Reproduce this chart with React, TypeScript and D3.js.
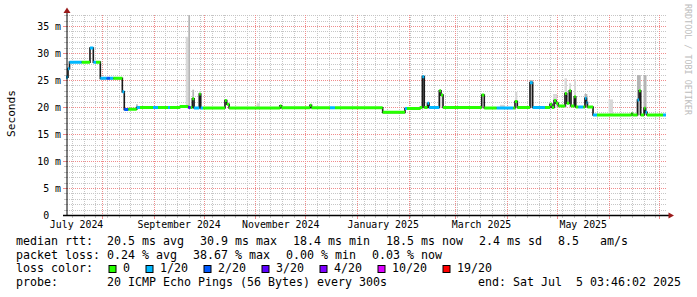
import React from "react";
import * as d3 from "d3";

// ---------- data ----------
const graphStart = "2024-07-10T03:46:02Z";
const graphEnd = "2025-07-05T03:46:02Z";

// median RTT steps (value holds from this time until the next one)
const medianTimes = [
  "2024-07-10T03", "2024-07-11T09", "2024-07-12T06", "2024-07-19T14", "2024-07-24T13",
  "2024-07-26T13", "2024-07-28T04", "2024-07-30T18", "2024-08-03T14", "2024-08-05T13",
  "2024-08-07T13", "2024-08-12T23", "2024-08-14T03", "2024-08-16T13", "2024-08-21T14",
  "2024-08-23T13", "2024-08-31T09", "2024-09-03T09", "2024-09-09T09", "2024-09-10T13",
  "2024-09-16T13", "2024-09-21T13", "2024-09-23T00", "2024-09-23T23", "2024-09-25T00",
  "2024-09-28T03", "2024-09-29T00", "2024-09-30T09", "2024-10-13T13", "2024-10-14T14",
  "2024-10-16T00", "2024-11-15T13", "2024-11-16T11", "2024-12-03T13", "2024-12-04T11",
  "2024-12-15T13", "2024-12-18T13", "2025-01-16T04", "2025-01-29T13", "2025-01-30T18",
  "2025-02-07T13", "2025-02-08T23", "2025-02-10T03", "2025-02-12T01", "2025-02-13T00",
  "2025-02-19T03", "2025-02-20T04", "2025-02-21T09", "2025-03-16T14", "2025-03-18T03",
  "2025-03-25T14", "2025-04-04T13", "2025-04-05T13", "2025-04-06T23", "2025-04-14T13",
  "2025-04-16T04", "2025-04-23T13", "2025-04-26T13", "2025-04-27T18", "2025-04-29T00",
  "2025-04-30T04", "2025-05-01T13", "2025-05-05T13", "2025-05-06T14", "2025-05-08T03",
  "2025-05-09T04", "2025-05-11T03", "2025-05-12T00", "2025-05-13T13", "2025-05-16T13",
  "2025-05-17T13", "2025-05-18T11", "2025-05-19T01", "2025-05-22T09", "2025-05-24T18",
  "2025-06-14T13", "2025-06-15T01", "2025-06-18T01", "2025-06-19T00", "2025-06-20T00",
  "2025-06-22T00", "2025-06-22T21", "2025-06-23T18", "2025-07-03T09",
];
const medianMs = [
  25.6, 27.2, 28.4, 28.4, 31.0,
  28.4, 28.4, 25.4, 25.4, 25.4,
  25.4, 22.9, 19.65, 19.7, 20.0,
  20.0, 20.0, 20.0, 20.0, 20.0,
  20.2, 20.0, 20.0, 21.6, 19.9,
  22.5, 19.9, 19.9, 21.3, 20.6,
  19.9, 20.3, 19.95, 20.4, 19.95,
  19.95, 19.95, 19.1, 19.8, 19.8,
  20.0, 25.7, 20.0, 20.8, 20.0,
  23.1, 22.3, 20.0, 22.3, 19.9,
  19.9, 19.9, 21.1, 20.0, 24.6,
  20.0, 20.0, 20.6, 20.0, 21.3,
  20.8, 20.3, 22.6, 20.8, 23.1,
  20.3, 22.0, 20.1, 20.1, 20.1,
  21.7, 20.9, 20.1, 18.6, 18.6,
  18.9, 18.6, 21.4, 23.1, 18.6,
  19.85, 19.1, 18.6, 18.6,
];
// loss bucket index per step (0 = 0/20, 1 = 1/20, 2 = 2/20, 3 = 3/20 ...)
const medianLoss = [
  1, 1, 1, 0, 1,
  1, 0, 1, 2, 1,
  0, 1, 2, 0, 1,
  0, 1, 0, 1, 0,
  0, 3, 0, 0, 1,
  0, 1, 0, 0, 0,
  0, 0, 0, 0, 0,
  1, 0, 0, 1, 0,
  0, 1, 0, 1, 1,
  0, 0, 0, 0, 0,
  1, 0, 0, 0, 1,
  1, 0, 0, 0, 0,
  0, 0, 0, 0, 0,
  0, 0, 0, 1, 0,
  1, 1, 0, 1, 0,
  0, 0, 1, 0, 0,
  0, 1, 0, 1,
];

// smoke (ping spread) around spikes
const smokeFrom = [
  "2024-08-21T05", "2024-09-20T00", "2024-09-21T13", "2024-09-23T23", "2024-11-01T13",
  "2025-02-08T20", "2025-02-11T18", "2025-02-19T00", "2025-03-27T13", "2025-04-05T13",
  "2025-04-14T13", "2025-04-28T09", "2025-05-05T06", "2025-05-08T00", "2025-05-11T00",
  "2025-05-17T06", "2025-05-31T18", "2025-06-17T18", "2025-06-21T16",
];
const smokeTo = [
  "2024-08-22T05", "2024-09-21T13", "2024-09-22T14", "2024-09-25T00", "2024-11-03T13",
  "2025-02-10T06", "2025-02-13T00", "2025-02-20T14", "2025-03-30T13", "2025-04-06T23",
  "2025-04-16T06", "2025-04-30T18", "2025-05-06T18", "2025-05-09T04", "2025-05-12T04",
  "2025-05-18T23", "2025-06-03T09", "2025-06-20T00", "2025-06-23T11",
];
const smokeLowMs = [
  20.0, 20.0, 20.0, 20.0, 20.0,
  20.0, 20.0, 20.0, 19.9, 20.0,
  20.0, 20.0, 20.0, 20.0, 20.0,
  20.0, 18.6, 18.6, 18.6,
];
const smokeHighMs = [
  20.6, 33.1, 40.0, 23.3, 20.8,
  26.0, 21.0, 23.3, 20.5, 22.9,
  25.1, 22.5, 25.4, 24.5, 25.2,
  22.5, 21.5, 26.0, 26.0,
];
const smokeDensity = [
  1, 0, 1, 1, 0,
  2, 1, 0, 0, 0,
  1, 0, 0, 0, 0,
  1, 0, 1, 1,
];

const lossColors = ["#26ff00", "#00b8ff", "#0059ff", "#5e00ff", "#7e00ff", "#dd00ff", "#ff0000"];
const lossLabels = ["0", "1/20", "2/20", "3/20", "4/20", "10/20", "19/20"];

const yTickValues = [0, 5, 10, 15, 20, 25, 30, 35];
const monthLabelMonths = ["2024-07-01T00", "2024-09-01T00", "2024-11-01T00", "2025-01-01T00", "2025-03-01T00", "2025-05-01T00"];
const monthLabelTexts = ["July 2024", "September 2024", "November 2024", "January 2025", "March 2025", "May 2025"];

const rttStats = ["median rtt:  20.5 ms avg", "30.9 ms max", "18.4 ms min", "18.5 ms now", "2.4 ms sd", "8.5   am/s"];
const lossStats = ["packet loss: 0.24 % avg", "38.67 % max", "0.00 % min", "0.03 % now"];
const lossColorTitle = "loss color:";
const probeTitle = "probe:";
const probeText = "20 ICMP Echo Pings (56 Bytes) every 300s";
const endText = "end: Sat Jul  5 03:46:02 2025";
const yAxisTitle = "Seconds";
const watermark = "RRDTOOL / TOBI OETIKER";

// ---------- component ----------
const MONO = "'DejaVu Sans Mono', monospace";
const parseTime = d3.utcParse("%Y-%m-%dT%H");

export default function App() {
  const t0 = new Date(graphStart);
  const t1 = new Date(graphEnd);
  const x = d3.scaleUtc().domain([t0, t1]).range([66, 666]);
  const y = d3.scaleLinear().domain([0, 37.04]).range([215.5, 15.5]);
  const crisp = (v: number) => Math.floor(v) + 0.5;

  const months = d3.utcMonth.range(t0, t1);
  const monthSet = new Set(months.map((d) => +d));
  const weeks = d3.utcSunday.range(t0, t1).filter((d) => !monthSet.has(+d));
  const minorY = d3.range(1, 38).filter((v) => v % 5 !== 0 && v <= 37.04);

  const times = medianTimes.map((s) => parseTime(s) as Date);
  const pts: [number, number][] = times.map((t, i) => [x(t), y(medianMs[i])]);
  pts.push([x(t1), y(medianMs[medianMs.length - 1])]);
  const stepPath = d3.line().curve(d3.curveStepAfter)(pts) || "";

  const smokeShade = ["#d8d8d8", "#b4b4b4", "#8c8c8c"];

  // legend layout (monospace char advance)
  const CW = 7;
  const GAP = 16;
  const xs1: number[] = [];
  rttStats.reduce((acc, s) => { xs1.push(acc); return acc + s.length * CW + GAP; }, 16);
  const xs2: number[] = [];
  lossStats.reduce((acc, s) => { xs2.push(acc); return acc + s.length * CW + GAP; }, 16);
  const boxXs: number[] = [];
  lossLabels.reduce((acc, s) => { boxXs.push(acc); return acc + 14.5 + s.length * CW + 15.5; }, 108.5);

  const rowY = [244.8, 258.6, 272.4, 286.2];
  const LFS = 11.63;

  return (
    <svg width={697} height={297} style={{ display: "block", position: "absolute", left: 0, top: 0, background: "#fff" }}>
      <defs>
        <clipPath id="plot">
          <rect x={66} y={15} width={600.5} height={200.5} />
        </clipPath>
      </defs>
      <rect x={0} y={0} width={697} height={297} fill="#fff" />

      {/* minor grid */}
      <g stroke="#c6c6c6" strokeWidth={1}>
        {minorY.map((v) => (
          <g key={"my" + v}>
            <line x1={67} x2={667} y1={crisp(y(v))} y2={crisp(y(v))} strokeDasharray="1,1" />
            <line x1={64} x2={67} y1={crisp(y(v))} y2={crisp(y(v))} />
          </g>
        ))}
        {weeks.map((d) => (
          <g key={"wx" + +d}>
            <line x1={crisp(x(d))} x2={crisp(x(d))} y1={15} y2={215} strokeDasharray="1,1" />
            <line x1={crisp(x(d))} x2={crisp(x(d))} y1={215} y2={218} />
          </g>
        ))}
      </g>
      {/* major grid */}
      <g stroke="#f08c8c" strokeWidth={1}>
        {yTickValues.filter((v) => v > 0).map((v) => (
          <g key={"My" + v}>
            <line x1={67} x2={667} y1={crisp(y(v))} y2={crisp(y(v))} strokeDasharray="1,1" />
            <line x1={63} x2={67} y1={crisp(y(v))} y2={crisp(y(v))} />
          </g>
        ))}
        {months.map((d) => (
          <g key={"Mx" + +d}>
            <line x1={crisp(x(d))} x2={crisp(x(d))} y1={15} y2={215} strokeDasharray="1,1" />
            <line x1={crisp(x(d))} x2={crisp(x(d))} y1={215} y2={219} />
          </g>
        ))}
      </g>

      {/* data */}
      <g clipPath="url(#plot)">
        {smokeFrom.map((s, i) => {
          const xa = x(parseTime(s) as Date);
          const xb = x(parseTime(smokeTo[i]) as Date);
          const ya = y(smokeHighMs[i]);
          const yb = y(smokeLowMs[i]);
          return <rect key={"s" + i} x={xa} y={ya} width={xb - xa} height={yb - ya} fill={smokeShade[smokeDensity[i]]} />;
        })}
        <path d={stepPath} fill="none" stroke="#1a1a1a" strokeWidth={1.6} />
        {times.map((t, i) => {
          const xa = x(t);
          const xb = i + 1 < times.length ? x(times[i + 1]) : x(t1);
          const yy = y(medianMs[i]);
          return (
            <line key={"m" + i} x1={xa} x2={xb} y1={yy} y2={yy} stroke={lossColors[medianLoss[i]]} strokeWidth={3} />
          );
        })}
      </g>

      {/* axes */}
      <line x1={67} x2={67} y1={12} y2={216} stroke="#000" strokeWidth={1} />
      <line x1={63} x2={669} y1={215.5} y2={215.5} stroke="#000" strokeWidth={1.4} />
      <polygon points="63.5,13 67,7.5 70.5,13" fill="#9a1a1a" />
      <polygon points="668.5,212.5 674,215.5 668.5,218.5" fill="#9a1a1a" />

      {/* y ticks */}
      <g fontFamily={MONO} fontSize={9.9} fill="#000">
        {yTickValues.map((v) => (
          <text key={"yt" + v} x={v === 0 ? 61 - 2 * 5.96 : 61} y={crisp(y(v)) + 3.4} textAnchor="end">
            {v === 0 ? "0" : `${v} m`}
          </text>
        ))}
        {monthLabelMonths.map((m, i) => {
          const a = parseTime(m) as Date;
          const b = d3.utcMonth.offset(a, 1);
          const cx = (x(a) + x(b)) / 2;
          return (
            <text key={"xl" + i} x={cx} y={228} textAnchor="middle">
              {monthLabelTexts[i]}
            </text>
          );
        })}
      </g>

      <text
        transform="translate(14.6,113.5) rotate(-90)"
        textAnchor="middle"
        fontFamily={MONO}
        fontSize={11.1}
        fill="#000"
      >
        {yAxisTitle}
      </text>
      <text
        transform="translate(684.6,4) rotate(90)"
        fontFamily={MONO}
        fontSize={8.4}
        fill="#bdbdbd"
      >
        {watermark}
      </text>

      {/* legend */}
      <g fontFamily={MONO} fontSize={LFS} fill="#000" style={{ whiteSpace: "pre" }}>
        {rttStats.map((s, i) => (
          <text key={"r1" + i} x={xs1[i]} y={rowY[0]} xmlSpace="preserve">{s}</text>
        ))}
        {lossStats.map((s, i) => (
          <text key={"r2" + i} x={xs2[i]} y={rowY[1]} xmlSpace="preserve">{s}</text>
        ))}
        <text x={16} y={rowY[2]}>{lossColorTitle}</text>
        {lossLabels.map((s, i) => (
          <g key={"lc" + i}>
            <rect x={boxXs[i] + 0.5} y={265.5} width={7} height={7} fill={lossColors[i]} stroke="#000" strokeWidth={1} />
            <text x={boxXs[i] + 14.5} y={rowY[2]}>{s}</text>
          </g>
        ))}
        <text x={16} y={rowY[3]}>{probeTitle}</text>
        <text x={107} y={rowY[3]} xmlSpace="preserve">{probeText}</text>
        <text x={478} y={rowY[3]} xmlSpace="preserve">{endText}</text>
      </g>
    </svg>
  );
}
